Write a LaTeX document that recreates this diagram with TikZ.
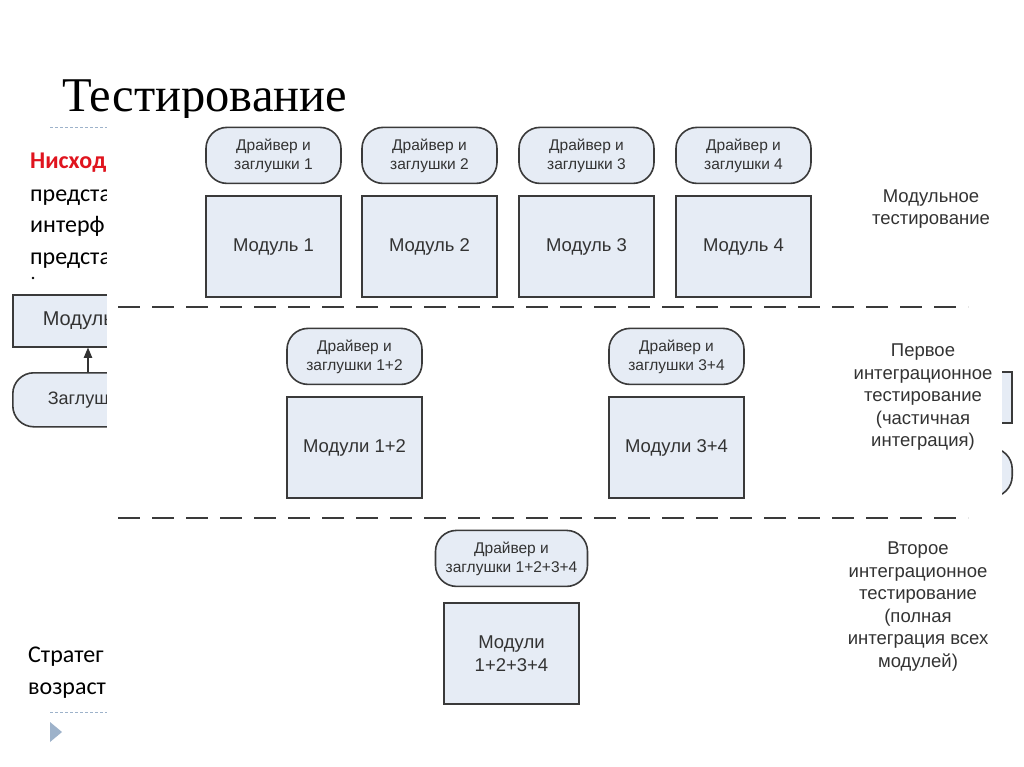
\documentclass[tikz,border=0pt]{standalone}
\usepackage{fontspec}
\setmainfont{Liberation Serif}
\setsansfont{Liberation Sans}
\newfontfamily\slidefont{Carlito}
\usepackage{tikz}
\usetikzlibrary{positioning}
\usetikzlibrary{arrows}
\definecolor{boxfill}{HTML}{E6ECF5}
\definecolor{boxline}{HTML}{3A3A3A}
\definecolor{boxtext}{HTML}{333333}
\definecolor{slidered}{HTML}{E0141E}
\definecolor{slideblue}{HTML}{9DB2CA}
\tikzset{
  module node/.style={rectangle,draw=boxline,line width=1.6pt,fill=boxfill,text=boxtext,
    font=\sffamily\fontsize{18.5}{23}\selectfont,align=center,inner sep=0pt,
    text height=13.5pt,text depth=4pt,minimum width=135pt,minimum height=101pt},
  stub node/.style={rectangle,rounded corners=21pt,draw=boxline,line width=1.6pt,fill=boxfill,
    text=boxtext,font=\sffamily\fontsize{15.5}{19}\selectfont,align=center,inner sep=0pt,
    minimum width=135pt,minimum height=56pt},
  level node/.style={text=boxtext,font=\sffamily\fontsize{18.5}{22.5}\selectfont,align=center},
  slide text/.style={anchor=base west,inner sep=0pt,font=\slidefont\fontsize{24}{31}\selectfont},
  split line/.style={boxline,line width=1.6pt,dash pattern=on 22pt off 12pt},
  rule line/.style={slideblue,line width=0.6pt,dash pattern=on 3pt off 2pt}
}
\begin{document}
\begin{tikzpicture}[x=1pt,y=-1pt,>=triangle 45]
  \fill[white] (0,0) rectangle (1024,767);
  \useasboundingbox (0,0) rectangle (1024,767);
  % slide behind the picture
  \node[anchor=base west,inner sep=0pt,font=\fontsize{48.5}{52}\selectfont] (title) at (62,112) {Тестирование};
  \draw[rule line] (50,127) -- (107,127);
  \node[slide text,text=slidered,font=\slidefont\bfseries\fontsize{24}{31}\selectfont] (nis) at (30,169) {Нисход};
  \node[slide text] (p1) at (30,202) {предста};
  \node[slide text] (p2) at (30,233) {интерф};
  \node[slide text] (p3) at (30,264) {предста};
  \fill (33,278) circle (1.3);
  \node[module node,anchor=north west,minimum height=52pt,text width=100pt,align=left,
    inner xsep=30pt,font=\sffamily\fontsize{20}{22}\selectfont] (lmod) at (12,294) {Модуль};
  \node[stub node,anchor=north west,minimum height=54pt,text width=100pt,align=left,
    inner xsep=35pt,font=\sffamily\fontsize{18}{21}\selectfont] (lstub) at (12,372) {Заглушка};
  \draw[->,boxtext,line width=1.4pt] ([xshift=76pt]lstub.north west) -- ([xshift=76pt]lmod.south west);
  \draw[boxline,line width=1.6pt,fill=boxfill] (930,372) rectangle (1012,423);
  \node[stub node,anchor=east,minimum width=100pt,minimum height=49pt] (rstub) at (1013,472.5) {};
  \node[slide text] (p4) at (28,662) {Стратег};
  \node[slide text] (p5) at (28,694) {возраст};
  \draw[rule line] (50,712) -- (107,712);
  \fill[slideblue] (50,722) -- (62,732) -- (50,742) -- cycle;
  \fill[white] (107,118) rectangle (1002,767);
  % modules and their drivers
  \node[module node] (m1) at (273.5,246.5) {Модуль 1};
  \node[module node] (m2) at (429.5,246.5) {Модуль 2};
  \node[module node] (m3) at (586.5,246.5) {Модуль 3};
  \node[module node] (m4) at (743.5,246.5) {Модуль 4};
  \node[stub node,above=11pt of m1] (s1) {Драйвер и\\заглушки 1};
  \node[stub node,above=11pt of m2] (s2) {Драйвер и\\заглушки 2};
  \node[stub node,above=11pt of m3] (s3) {Драйвер и\\заглушки 3};
  \node[stub node,above=11pt of m4] (s4) {Драйвер и\\заглушки 4};
  \node[module node] (m12) at (354.5,447.5) {Модули 1+2};
  \node[module node] (m34) at (676.5,447.5) {Модули 3+4};
  \node[stub node,above=11pt of m12] (s12) {Драйвер и\\заглушки 1+2};
  \node[stub node,above=11pt of m34] (s34) {Драйвер и\\заглушки 3+4};
  \node[module node,text height=,text depth=] (m1234) at (511.5,653.5) {Модули\\1+2+3+4};
  \node[stub node,minimum width=152pt,above=15pt of m1234] (s1234) {Драйвер и\\заглушки 1+2+3+4};
  \draw[split line] (118,307) -- (968,307);
  \draw[split line] (118,518) -- (968,518);
  % levels
  \node[level node] (l1) at (931,209) {Модульное\\тестирование};
  \node[level node] (l2) at (923,397.5) {Первое\\интеграционное\\тестирование\\(частичная\\интеграция)};
  \node[level node] (l3) at (918,606.5) {Второе\\интеграционное\\тестирование\\(полная\\интеграция всех\\модулей)};
\end{tikzpicture}
\end{document}
